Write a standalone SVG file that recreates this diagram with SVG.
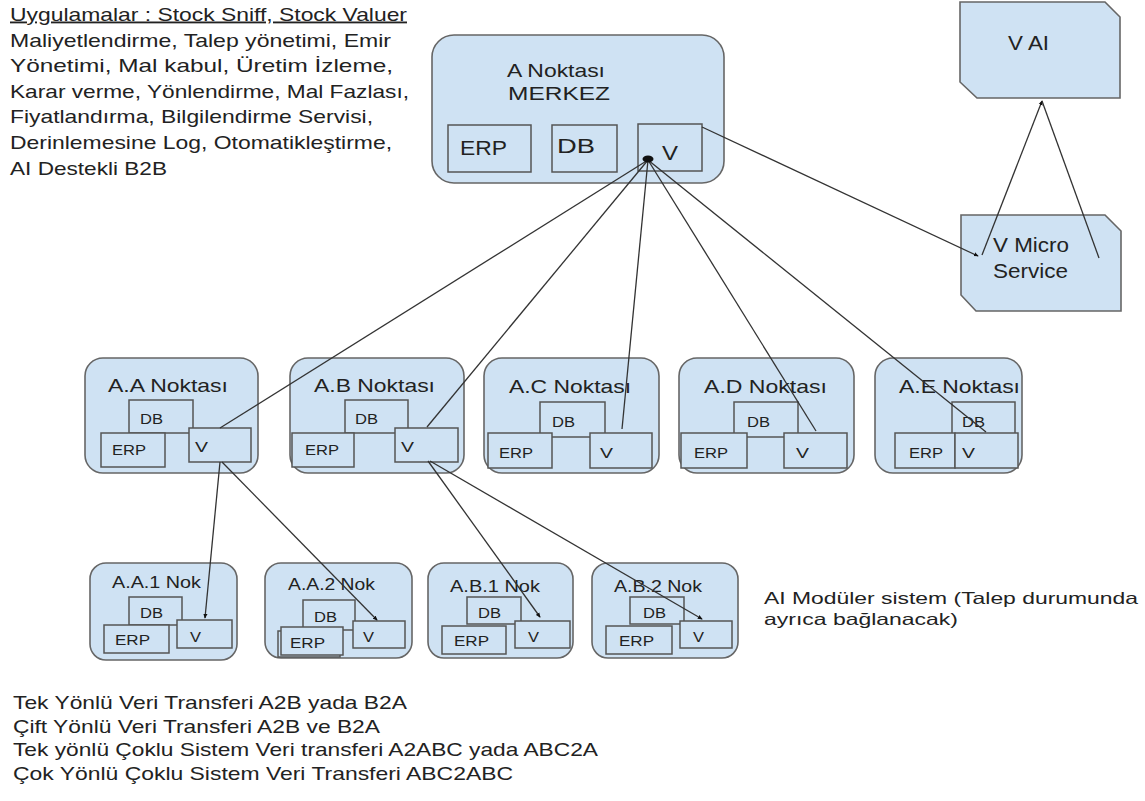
<svg xmlns="http://www.w3.org/2000/svg" width="1145" height="801" viewBox="0 0 1145 801">
  <style>
    .bg { fill: #ffffff; }
    .node { fill: #cfe2f3; stroke: #666666; stroke-width: 1.6; }
    .part { fill: #cfe2f3; stroke: #555555; stroke-width: 1.5; }
    .t { font-family: "Liberation Sans", Arial, Helvetica, sans-serif; fill: #222222; }
    .big { font-size: 19px; }
    .mid { font-size: 15px; }
    .note { font-size: 18.5px; }
    .conn { stroke: #333333; stroke-width: 1.3; fill: none; }
    .tip { marker-end: url(#tip); }
  </style>
  <defs>
    <marker id="tip" viewBox="0 0 6 6" refX="5" refY="3" markerWidth="5" markerHeight="5" markerUnits="userSpaceOnUse" orient="auto">
      <path d="M0,0.5 L6,3 L0,5.5 z" fill="#111111"/>
    </marker>
  </defs>

  <rect class="bg" x="0" y="0" width="1145" height="801"/>

  <!-- application list, top left -->
  <g id="apps-note" class="t note">
    <text x="10" y="20.5" textLength="397" lengthAdjust="spacingAndGlyphs" text-decoration="underline">Uygulamalar : Stock Sniff, Stock Valuer</text>
    <text x="10" y="46.5" textLength="381" lengthAdjust="spacingAndGlyphs">Maliyetlendirme, Talep yönetimi, Emir</text>
    <text x="10" y="72" textLength="383" lengthAdjust="spacingAndGlyphs">Yönetimi, Mal kabul, Üretim İzleme,</text>
    <text x="10" y="97.5" textLength="399" lengthAdjust="spacingAndGlyphs">Karar verme, Yönlendirme, Mal Fazlası,</text>
    <text x="10" y="123" textLength="363" lengthAdjust="spacingAndGlyphs">Fiyatlandırma, Bilgilendirme Servisi,</text>
    <text x="10" y="149" textLength="382" lengthAdjust="spacingAndGlyphs">Derinlemesine Log, Otomatikleştirme,</text>
    <text x="10" y="174.5" textLength="157" lengthAdjust="spacingAndGlyphs">AI Destekli B2B</text>
  </g>

  <!-- central site -->
  <g id="node-A">
    <rect class="node" x="432" y="35" width="292" height="148" rx="22"/>
    <text class="t note" x="507" y="77" textLength="98" lengthAdjust="spacingAndGlyphs">A Noktası</text>
    <text class="t note" x="508" y="100" textLength="102" lengthAdjust="spacingAndGlyphs">MERKEZ</text>
    <rect class="part" x="448" y="125" width="83" height="47"/>
    <text class="t" font-size="20" x="460" y="155" textLength="47" lengthAdjust="spacingAndGlyphs">ERP</text>
    <rect class="part" x="552" y="125" width="65" height="47"/>
    <text class="t" font-size="20" x="557" y="153" textLength="38" lengthAdjust="spacingAndGlyphs">DB</text>
    <rect class="part" x="638" y="124" width="64" height="47"/>
    <text class="t" font-size="20" x="662" y="160" textLength="16" lengthAdjust="spacingAndGlyphs">V</text>
  </g>

  <!-- AI service -->
  <g id="node-VAI">
    <path class="node" d="M960,2 H1105 L1120,17 V98 H977 L960,82 Z"/>
    <text class="t" font-size="20" x="1008" y="50" textLength="41" lengthAdjust="spacingAndGlyphs">V AI</text>
  </g>

  <!-- micro service -->
  <g id="node-VMicro">
    <path class="node" d="M961,215 H1105 L1121,231 V311 H976 L961,295 Z"/>
    <text class="t" font-size="20" x="993" y="252" textLength="76" lengthAdjust="spacingAndGlyphs">V Micro</text>
    <text class="t" font-size="20" x="993" y="278" textLength="75" lengthAdjust="spacingAndGlyphs">Service</text>
  </g>

  <!-- second level sites -->
  <g id="node-AA">
    <rect class="node" x="85" y="358" width="173" height="115" rx="18"/>
    <text class="t big" x="108" y="392" textLength="120" lengthAdjust="spacingAndGlyphs">A.A Noktası</text>
    <rect class="part" x="129" y="400" width="64" height="33"/>
    <text class="t mid" x="140" y="424" textLength="23" lengthAdjust="spacingAndGlyphs">DB</text>
    <rect class="part" x="101" y="433" width="64" height="34"/>
    <text class="t mid" x="112" y="455" textLength="34" lengthAdjust="spacingAndGlyphs">ERP</text>
    <rect class="part" x="189" y="428" width="62" height="34"/>
    <text class="t mid" x="195" y="452" textLength="13" lengthAdjust="spacingAndGlyphs">V</text>
  </g>

  <g id="node-AB">
    <rect class="node" x="290" y="358" width="174" height="115" rx="18"/>
    <text class="t big" x="314" y="392" textLength="121" lengthAdjust="spacingAndGlyphs">A.B Noktası</text>
    <rect class="part" x="345" y="400" width="63" height="33"/>
    <text class="t mid" x="355" y="424" textLength="23" lengthAdjust="spacingAndGlyphs">DB</text>
    <rect class="part" x="292" y="433" width="62" height="34"/>
    <text class="t mid" x="305" y="455" textLength="34" lengthAdjust="spacingAndGlyphs">ERP</text>
    <rect class="part" x="395" y="428" width="63" height="34"/>
    <text class="t mid" x="401" y="452" textLength="13" lengthAdjust="spacingAndGlyphs">V</text>
  </g>

  <g id="node-AC">
    <rect class="node" x="484" y="358" width="175" height="115" rx="18"/>
    <text class="t big" x="509" y="393" textLength="122" lengthAdjust="spacingAndGlyphs">A.C Noktası</text>
    <rect class="part" x="540" y="402" width="65" height="35"/>
    <text class="t mid" x="552" y="427" textLength="23" lengthAdjust="spacingAndGlyphs">DB</text>
    <rect class="part" x="488" y="433" width="64" height="35"/>
    <text class="t mid" x="499" y="458" textLength="34" lengthAdjust="spacingAndGlyphs">ERP</text>
    <rect class="part" x="590" y="433" width="62" height="35"/>
    <text class="t mid" x="600" y="458" textLength="13" lengthAdjust="spacingAndGlyphs">V</text>
  </g>

  <g id="node-AD">
    <rect class="node" x="679" y="358" width="175" height="115" rx="18"/>
    <text class="t big" x="704" y="393" textLength="123" lengthAdjust="spacingAndGlyphs">A.D Noktası</text>
    <rect class="part" x="734" y="402" width="64" height="35"/>
    <text class="t mid" x="747" y="427" textLength="23" lengthAdjust="spacingAndGlyphs">DB</text>
    <rect class="part" x="681" y="433" width="66" height="35"/>
    <text class="t mid" x="694" y="458" textLength="34" lengthAdjust="spacingAndGlyphs">ERP</text>
    <rect class="part" x="784" y="433" width="63" height="35"/>
    <text class="t mid" x="796" y="458" textLength="13" lengthAdjust="spacingAndGlyphs">V</text>
  </g>

  <g id="node-AE">
    <rect class="node" x="875" y="358" width="147" height="115" rx="18"/>
    <text class="t big" x="899" y="393" textLength="121" lengthAdjust="spacingAndGlyphs">A.E Noktası</text>
    <rect class="part" x="952" y="402" width="63" height="35"/>
    <text class="t mid" x="962" y="427" textLength="23" lengthAdjust="spacingAndGlyphs">DB</text>
    <rect class="part" x="895" y="433" width="60" height="35"/>
    <text class="t mid" x="909" y="458" textLength="34" lengthAdjust="spacingAndGlyphs">ERP</text>
    <rect class="part" x="955" y="433" width="63" height="35"/>
    <text class="t mid" x="962" y="458" textLength="13" lengthAdjust="spacingAndGlyphs">V</text>
  </g>

  <!-- third level sites -->
  <g id="node-AA1">
    <rect class="node" x="90" y="563" width="147" height="97" rx="16"/>
    <text class="t" font-size="16.5" x="112" y="588" textLength="89" lengthAdjust="spacingAndGlyphs">A.A.1 Nok</text>
    <rect class="part" x="129" y="597" width="53" height="28"/>
    <text class="t mid" x="140" y="618" textLength="23" lengthAdjust="spacingAndGlyphs">DB</text>
    <rect class="part" x="104" y="625" width="65" height="28"/>
    <text class="t mid" x="115" y="645" textLength="35" lengthAdjust="spacingAndGlyphs">ERP</text>
    <rect class="part" x="177" y="620" width="55" height="28"/>
    <text class="t mid" x="190" y="642" textLength="11" lengthAdjust="spacingAndGlyphs">V</text>
  </g>

  <g id="node-AA2">
    <rect class="node" x="265" y="563" width="147" height="95" rx="16"/>
    <text class="t" font-size="16.5" x="288" y="590" textLength="87" lengthAdjust="spacingAndGlyphs">A.A.2 Nok</text>
    <rect class="part" x="303" y="600" width="52" height="30"/>
    <text class="t mid" x="314" y="622" textLength="23" lengthAdjust="spacingAndGlyphs">DB</text>
    <rect class="part" x="278" y="631" width="62" height="26"/>
    <rect class="part" x="281" y="627" width="62" height="28"/>
    <text class="t mid" x="290" y="648" textLength="35" lengthAdjust="spacingAndGlyphs">ERP</text>
    <rect class="part" x="353" y="621" width="52" height="27"/>
    <text class="t mid" x="363" y="642" textLength="11" lengthAdjust="spacingAndGlyphs">V</text>
  </g>

  <g id="node-AB1">
    <rect class="node" x="428" y="563" width="145" height="95" rx="16"/>
    <text class="t" font-size="16.5" x="450" y="592" textLength="90" lengthAdjust="spacingAndGlyphs">A.B.1 Nok</text>
    <rect class="part" x="467" y="597" width="54" height="27"/>
    <text class="t mid" x="478" y="618" textLength="23" lengthAdjust="spacingAndGlyphs">DB</text>
    <rect class="part" x="442" y="626" width="64" height="28"/>
    <text class="t mid" x="454" y="646" textLength="35" lengthAdjust="spacingAndGlyphs">ERP</text>
    <rect class="part" x="515" y="621" width="55" height="27"/>
    <text class="t mid" x="528" y="642" textLength="11" lengthAdjust="spacingAndGlyphs">V</text>
  </g>

  <g id="node-AB2">
    <rect class="node" x="592" y="563" width="146" height="95" rx="16"/>
    <text class="t" font-size="16.5" x="614" y="592" textLength="88" lengthAdjust="spacingAndGlyphs">A.B.2 Nok</text>
    <rect class="part" x="630" y="597" width="54" height="27"/>
    <text class="t mid" x="643" y="618" textLength="23" lengthAdjust="spacingAndGlyphs">DB</text>
    <rect class="part" x="606" y="626" width="66" height="28"/>
    <text class="t mid" x="619" y="646" textLength="35" lengthAdjust="spacingAndGlyphs">ERP</text>
    <rect class="part" x="680" y="621" width="52" height="27"/>
    <text class="t mid" x="693" y="642" textLength="11" lengthAdjust="spacingAndGlyphs">V</text>
  </g>

  <!-- data links -->
  <g id="connectors">
    <line class="conn" x1="648" y1="160" x2="220" y2="428"/>
    <line class="conn" x1="648" y1="160" x2="427" y2="427"/>
    <line class="conn" x1="648" y1="160" x2="622" y2="429"/>
    <line class="conn" x1="648" y1="160" x2="816" y2="431"/>
    <line class="conn" x1="648" y1="160" x2="986" y2="432"/>
    <ellipse cx="648" cy="159" rx="5.5" ry="3.5" fill="#111111"/>
    <line class="conn tip" x1="702" y1="127" x2="978" y2="256"/>
    <line class="conn tip" x1="982" y1="255" x2="1042" y2="101"/>
    <line class="conn" x1="1042" y1="101" x2="1099" y2="258"/>
    <line class="conn tip" x1="220" y1="462" x2="205" y2="618"/>
    <line class="conn tip" x1="222" y1="462" x2="377" y2="620"/>
    <line class="conn tip" x1="428" y1="461" x2="540" y2="617"/>
    <line class="conn tip" x1="430" y1="461" x2="702" y2="619"/>
  </g>

  <!-- side note -->
  <g id="ai-note" class="t" font-size="16.5">
    <text x="764" y="604" textLength="374" lengthAdjust="spacingAndGlyphs">AI Modüler sistem (Talep durumunda</text>
    <text x="764" y="625" textLength="194" lengthAdjust="spacingAndGlyphs">ayrıca bağlanacak)</text>
  </g>

  <!-- transfer modes -->
  <g id="transfer-note" class="t" font-size="19">
    <text x="13" y="709" textLength="394" lengthAdjust="spacingAndGlyphs">Tek Yönlü Veri Transferi A2B yada B2A</text>
    <text x="13" y="733" textLength="367" lengthAdjust="spacingAndGlyphs">Çift Yönlü Veri Transferi A2B ve B2A</text>
    <text x="13" y="756" textLength="585" lengthAdjust="spacingAndGlyphs">Tek yönlü Çoklu Sistem Veri transferi A2ABC yada ABC2A</text>
    <text x="13" y="780" textLength="500" lengthAdjust="spacingAndGlyphs">Çok Yönlü Çoklu Sistem Veri Transferi ABC2ABC</text>
  </g>
</svg>
